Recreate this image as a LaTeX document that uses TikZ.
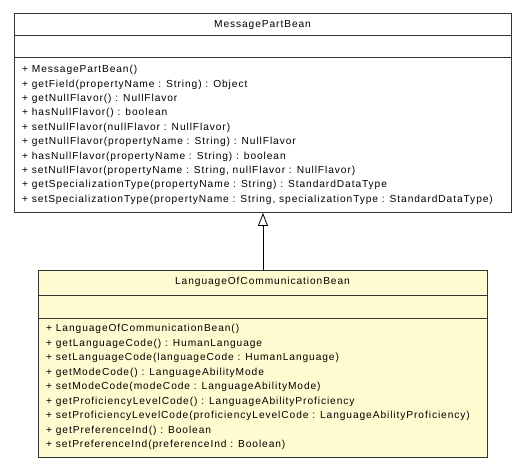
\documentclass[tikz,border=0pt]{standalone}
\usepackage{fontspec}
\setmainfont{Liberation Sans}[LetterSpace=9]
\usetikzlibrary{arrows.meta}
\definecolor{beanfill}{RGB}{255,250,208}
\tikzset{
  classbox/.style={draw=black!80, line width=0.9pt, inner sep=0pt, anchor=north west},
  sepline/.style={draw=black!80, line width=0.9pt},
  member/.style={anchor=west, inner sep=0pt, font=\fontsize{10.2}{12}\selectfont},
  title/.style={inner sep=0pt, font=\fontsize{10.2}{12}\selectfont},
}
\begin{document}
\begin{tikzpicture}[x=1pt,y=-1pt]
    \useasboundingbox (0,0) rectangle (525,469);
    % MessagePartBean
    \node[classbox, fill=white, minimum width=497pt, minimum height=199pt] (parent) at (14,13) {};
    \draw[sepline] (14,35.5) -- (511,35.5);
    \draw[sepline] (14,57.5) -- (511,57.5);
    \node[title] (parentname) at (262.5,25) {MessagePartBean};
    \node[member] (p1) at (22,70) {+ MessagePartBean()};
    \node[member] (p2) at (22,84.4) {+ getField(propertyName : String) : Object};
    \node[member] (p3) at (22,98.8) {+ getNullFlavor() : NullFlavor};
    \node[member] (p4) at (22,113.2) {+ hasNullFlavor() : boolean};
    \node[member] (p5) at (22,127.6) {+ setNullFlavor(nullFlavor : NullFlavor)};
    \node[member] (p6) at (22,142) {+ getNullFlavor(propertyName : String) : NullFlavor};
    \node[member] (p7) at (22,156.4) {+ hasNullFlavor(propertyName : String) : boolean};
    \node[member] (p8) at (22,170.8) {+ setNullFlavor(propertyName : String, nullFlavor : NullFlavor)};
    \node[member] (p9) at (22,185.2) {+ getSpecializationType(propertyName : String) : StandardDataType};
    \node[member] (p10) at (22,199.6) {+ setSpecializationType(propertyName : String, specializationType : StandardDataType)};

    % LanguageOfCommunicationBean
    \node[classbox, fill=beanfill, minimum width=449pt, minimum height=187pt] (child) at (38,270) {};
    \draw[sepline] (38,295) -- (487,295);
    \draw[sepline] (38,318) -- (487,318);
    \node[title] (childname) at (262.5,282) {LanguageOfCommunicationBean};
    \node[member] (c1) at (46,329) {+ LanguageOfCommunicationBean()};
    \node[member] (c2) at (46,343.5) {+ getLanguageCode() : HumanLanguage};
    \node[member] (c3) at (46,358) {+ setLanguageCode(languageCode : HumanLanguage)};
    \node[member] (c4) at (46,372.5) {+ getModeCode() : LanguageAbilityMode};
    \node[member] (c5) at (46,387) {+ setModeCode(modeCode : LanguageAbilityMode)};
    \node[member] (c6) at (46,401.5) {+ getProficiencyLevelCode() : LanguageAbilityProficiency};
    \node[member] (c7) at (46,416) {+ setProficiencyLevelCode(proficiencyLevelCode : LanguageAbilityProficiency)};
    \node[member] (c8) at (46,430.5) {+ getPreferenceInd() : Boolean};
    \node[member] (c9) at (46,445) {+ setPreferenceInd(preferenceInd : Boolean)};

    % generalization
    \draw[line width=0.8pt, -{Triangle[open, width=10pt, length=13pt]}] (child.north) -- (parent.south);
\end{tikzpicture}
\end{document}
